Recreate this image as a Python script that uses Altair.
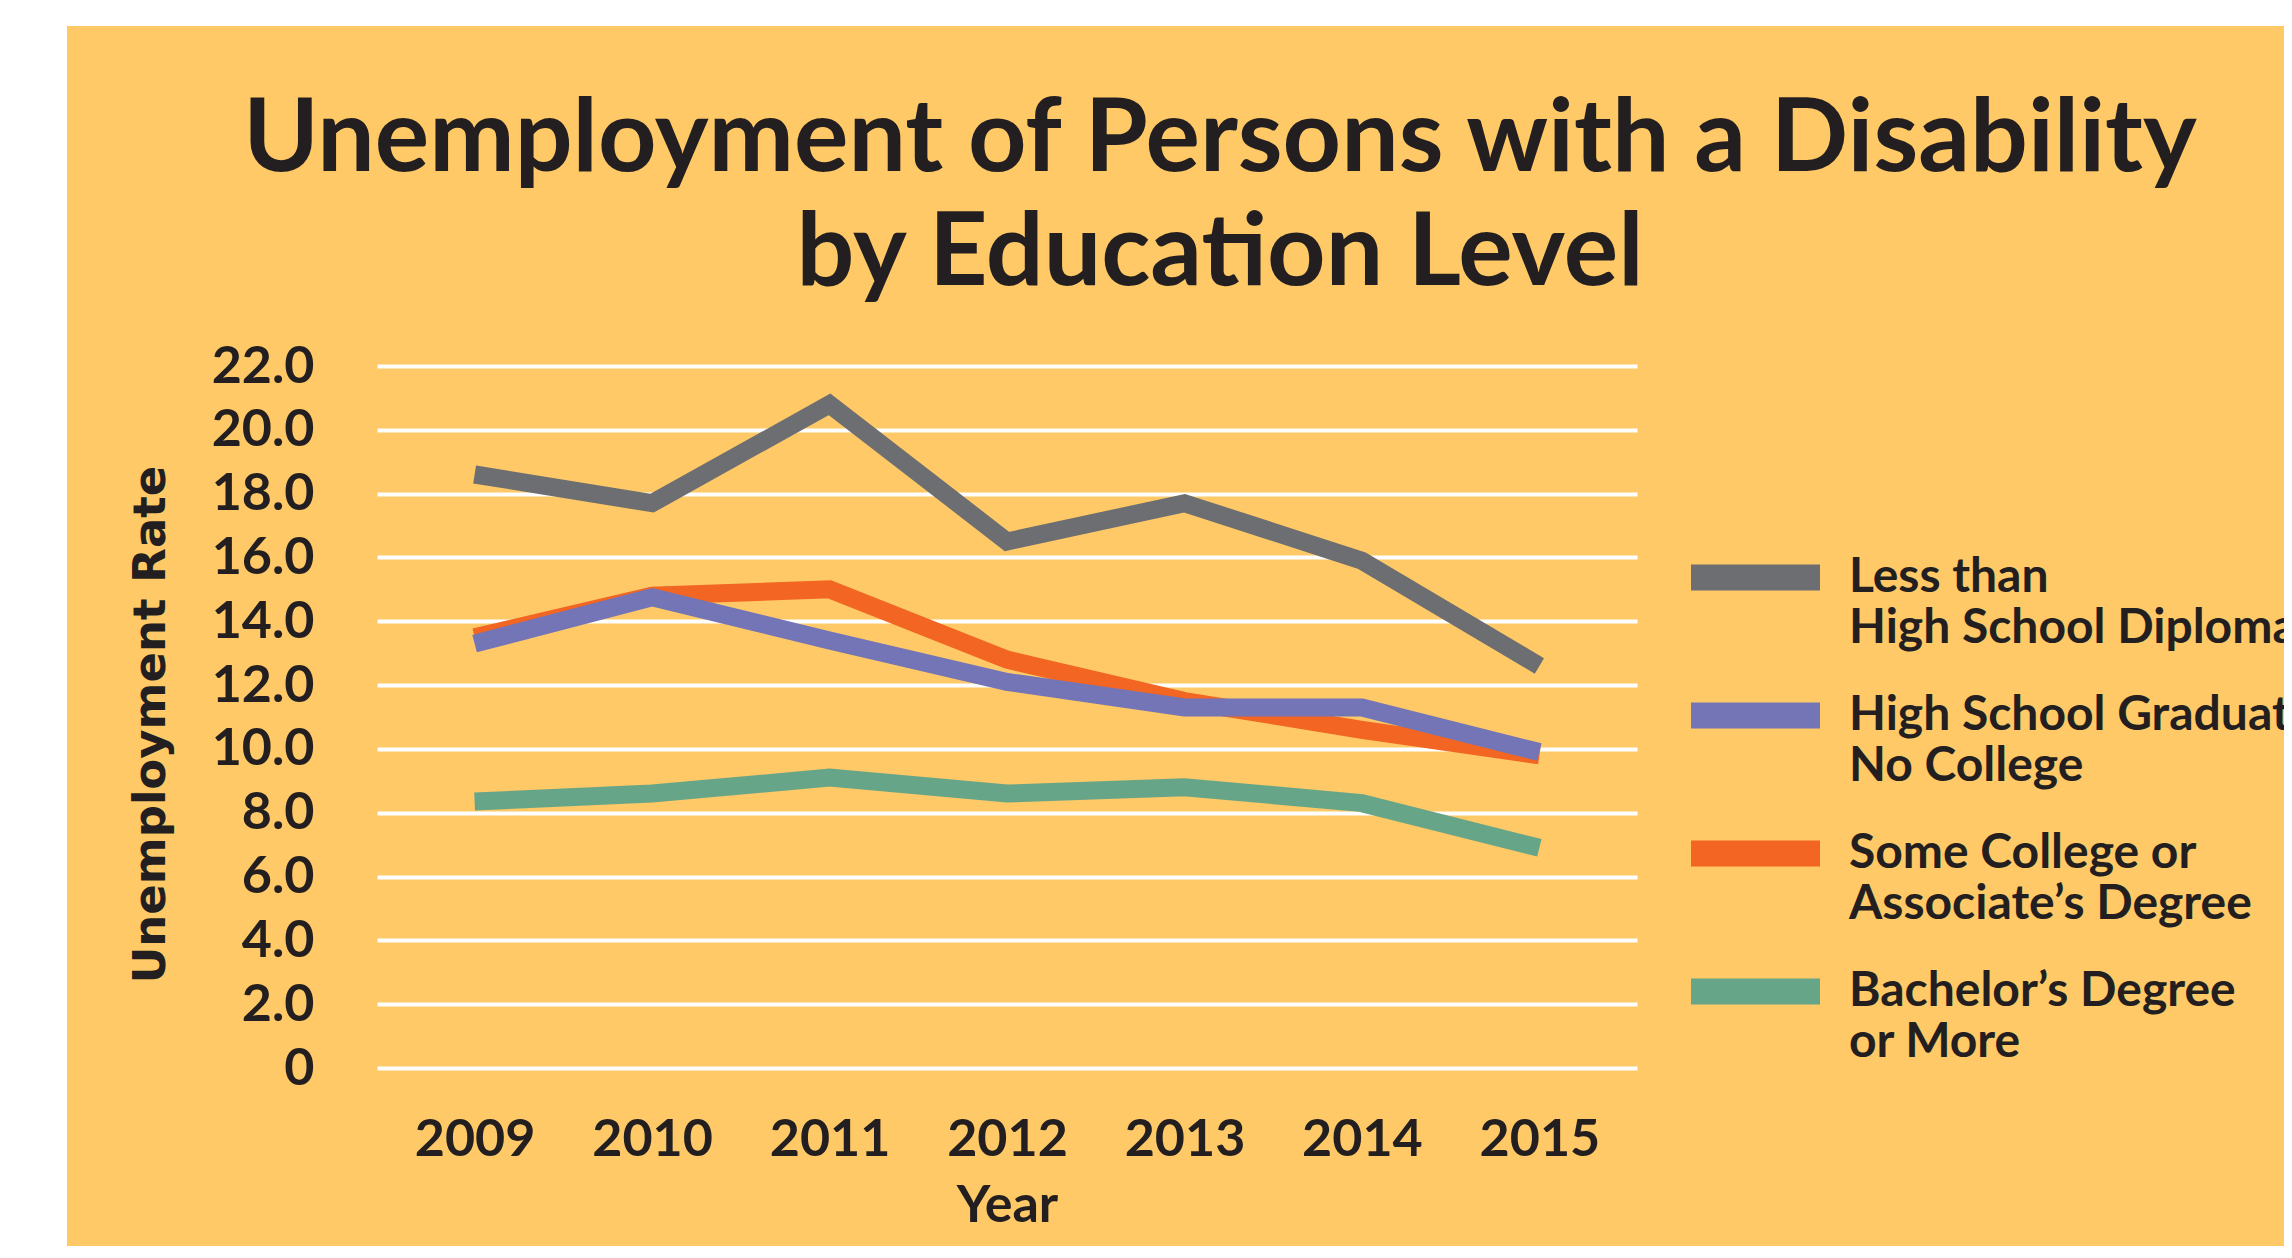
import altair as alt
import pandas as pd

# ---- data ----
years = ["2009", "2010", "2011", "2012", "2013", "2014", "2015"]
less_than_hs = [18.6, 17.7, 20.8, 16.5, 17.7, 15.9, 12.6]
hs_graduate = [13.3, 14.75, 13.4, 12.1, 11.3, 11.3, 9.9]
some_college = [13.5, 14.8, 15.0, 12.8, 11.5, 10.6, 9.8]
bachelors = [8.35, 8.6, 9.1, 8.6, 8.8, 8.3, 6.9]

level_names = [
    "Less than|High School Diploma",
    "High School Graduate|No College",
    "Some College or|Associate\u2019s Degree",
    "Bachelor\u2019s Degree|or More",
]
level_colors = ["#6d6e71", "#7375b6", "#f26522", "#67a589"]
y_ticks = [0, 2, 4, 6, 8, 10, 12, 14, 16, 18, 20, 22]

title_lines = ["Unemployment of Persons with a Disability", "by Education Level"]

# drawing order: purple drawn last (on top of orange)
draw_order = [
    (level_names[0], less_than_hs),
    (level_names[3], bachelors),
    (level_names[2], some_college),
    (level_names[1], hs_graduate),
]
rows = []
for name, vals in draw_order:
    for yr, v in zip(years, vals):
        rows.append({"Year": yr, "Rate": v, "Level": name})
df = pd.DataFrame(rows)

BG = "#fec966"
INK = "#231f20"
W, H = 1260, 702
TOTAL_W, TOTAL_H = 2276, 1238
PAD = {"left": 369, "top": 358, "right": TOTAL_W - 369 - W, "bottom": TOTAL_H - 358 - H}

lines = alt.Chart(df).mark_line(strokeWidth=18, strokeCap="butt", strokeJoin="miter").encode(
    x=alt.X(
        "Year:O",
        sort=years,
        scale=alt.Scale(type="point", padding=0.55),
        axis=alt.Axis(
            title="Year", labelAngle=0, domain=False, ticks=False, grid=False,
            labelFont="Lato", labelFontSize=52, labelFontWeight="bold", labelColor=INK,
            labelPadding=46, titleFont="Lato", titleFontSize=52, titleFontWeight="bold",
            titleColor=INK, titlePadding=15,
        ),
    ),
    y=alt.Y(
        "Rate:Q",
        scale=alt.Scale(domain=[0, 22], nice=False, zero=True),
        axis=alt.Axis(
            title="Unemployment Rate", values=y_ticks, domain=False, ticks=False,
            grid=True, gridColor="white", gridWidth=4, gridOpacity=1,
            labelExpr="datum.value == 0 ? '0' : format(datum.value, '.1f')",
            labelFont="Lato", labelFontSize=52, labelFontWeight="bold", labelColor=INK,
            labelPadding=63, titleFont="DejaVu Sans", titleFontSize=45,
            titleFontWeight="bold", titleColor=INK, titlePadding=38, titleY=358,
        ),
    ),
    color=alt.Color(
        "Level:N",
        scale=alt.Scale(domain=level_names, range=level_colors),
        legend=alt.Legend(
            title=None, orient="none", legendX=1333, legendY=166, padding=0,
            symbolType="M-2,0H2", symbolSize=4160, symbolStrokeWidth=26,
            labelExpr="split(datum.label, '|')", labelFont="Lato", labelFontSize=48,
            labelFontWeight="bold", labelColor=INK, labelOffset=48, labelLimit=2000,
            rowPadding=10, labelBaseline="middle",
        ),
    ),
)

frame = alt.Data(values=[{"k": 0}])
left_strip = alt.Chart(frame).mark_rect(color="white").encode(
    x=alt.value(-369), x2=alt.value(-310), y=alt.value(-358), y2=alt.value(H + 200)
)
top_strip = alt.Chart(frame).mark_rect(color="white").encode(
    x=alt.value(-369), x2=alt.value(W + 700), y=alt.value(-358), y2=alt.value(-340)
)

chart = alt.layer(left_strip, top_strip, lines).properties(
    width=W,
    height=H,
    autosize=alt.AutoSizeParams(type="none"),
    padding=PAD,
    background=BG,
    title=alt.TitleParams(
        text=title_lines, font="Lato", fontSize=102, fontWeight="bold", color=INK,
        anchor="middle", frame="group", dx=213, offset=-298, lineHeight=114,
    ),
).configure(
    style={"guide-label": {"lineHeight": 51}},
    view=alt.ViewConfig(stroke=None),
)

chart.save("out.html", embed_options={"renderer": "svg", "actions": False})
